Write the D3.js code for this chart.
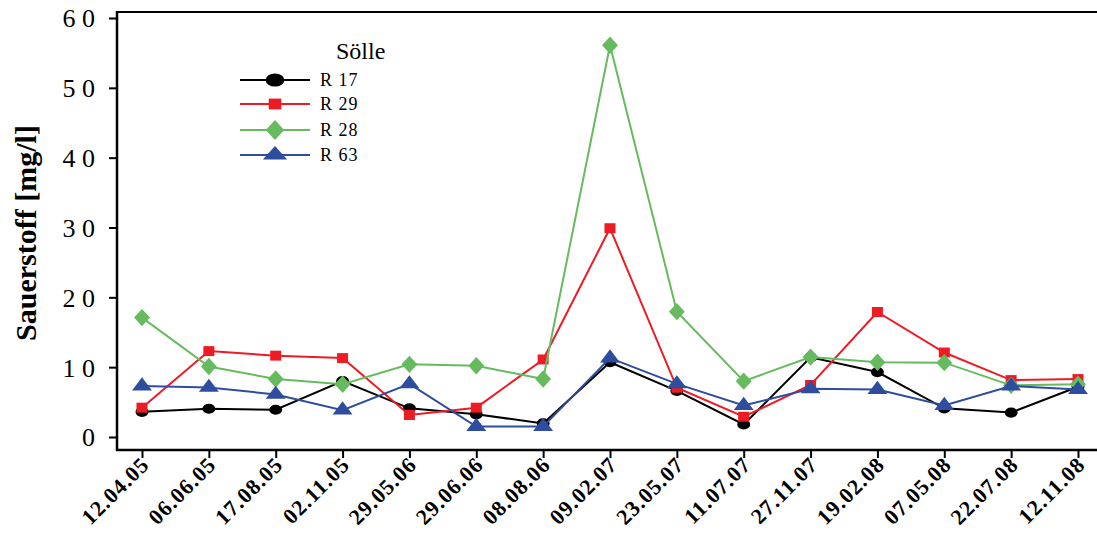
<!DOCTYPE html>
<html><head><meta charset="utf-8">
<script src="https://cdn.jsdelivr.net/npm/d3@7"></script>
<style>body{margin:0;background:#fff}svg{display:block}</style>
</head><body>
<script>
const dates = ["12.04.05","06.06.05","17.08.05","02.11.05","29.05.06","29.06.06","08.08.06","09.02.07","23.05.07","11.07.07","27.11.07","19.02.08","07.05.08","22.07.08","12.11.08"];
const r17 = [3.6,4.05,3.9,8.0,4.1,3.25,1.95,10.7,6.6,1.8,11.4,9.3,4.1,3.5,7.2];
const r29 = [4.2,12.3,11.65,11.3,3.15,4.2,11.1,29.9,7.05,2.9,7.45,17.9,12.1,8.15,8.3];
const r28 = [17.1,10.1,8.3,7.55,10.4,10.2,8.3,56.1,17.95,8.0,11.45,10.7,10.65,7.4,7.55];
const r63 = [7.3,7.1,6.1,3.85,7.6,1.5,1.5,11.3,7.6,4.5,6.9,6.8,4.5,7.3,6.8];
const yTicks = [0,10,20,30,40,50,60];
const seriesNames = ["R 17","R 29","R 28","R 63"];
const seriesColors = ["#000000","#ed1c24","#66bb5e","#2e4d9e"];
const seriesSymbols = [d3.symbolCircle, d3.symbolSquare, d3.symbolDiamond, d3.symbolTriangle];
const seriesData = [r17, r29, r28, r63];

const W = 1097, H = 533;
const svg = d3.select("body").append("svg").attr("width", W).attr("height", H);
const font = "'Liberation Serif','Times New Roman',serif";

const x = d3.scalePoint().domain(dates).range([142, 1078]);
const y = d3.scaleLinear().domain([0, 60]).range([437, 18]);

// marker shapes (size, x-scale, y-scale)
const mk = [[100,1.15,0.9],[110,1.05,0.95],[120,1.35,0.85],[110,1.25,0.95]];
const mkLeg = [[150,1.35,0.95],[130,1.1,0.95],[140,1.45,0.9],[130,1.4,0.9]];

// frame
svg.append("line").attr("x1",117).attr("x2",W).attr("y1",12).attr("y2",12).attr("stroke","#000").attr("stroke-width",2);

// y axis
const yAx = svg.append("g").attr("transform","translate(117,0)")
  .call(d3.axisLeft(y).tickValues(yTicks).tickSize(8).tickPadding(14).tickFormat(d => String(d).split("").join(" ")));
yAx.select(".domain").remove();
yAx.selectAll(".tick line").attr("stroke-width",2);
yAx.selectAll("text").attr("font-family",font).attr("font-size",26).attr("fill","#000").attr("dy","0.34em");
svg.append("line").attr("x1",117).attr("x2",117).attr("y1",11).attr("y2",451).attr("stroke","#000").attr("stroke-width",2.5);

// x axis
const xAx = svg.append("g").attr("transform","translate(0,450)")
  .call(d3.axisBottom(x).tickSize(8).tickPadding(4));
xAx.select(".domain").remove();
xAx.selectAll(".tick line").attr("stroke-width",2);
xAx.selectAll("text").attr("font-family",font).attr("font-size",22).attr("font-weight","bold").attr("fill","#000")
  .attr("letter-spacing","1px")
  .attr("text-anchor","end").attr("dy",null).attr("dx",null)
  .attr("transform","translate(8,16) rotate(-45)").attr("y",0).attr("x",0);
svg.append("line").attr("x1",116).attr("x2",W).attr("y1",450).attr("y2",450).attr("stroke","#000").attr("stroke-width",2.5);

// axis title
svg.append("text").attr("transform","translate(36,233) rotate(-90)").attr("text-anchor","middle")
  .attr("font-family",font).attr("font-size",30).attr("font-weight","bold").text("Sauerstoff [mg/l]");

// series
const line = d3.line().x((d,i)=>x(dates[i])).y(d=>y(d));
seriesData.forEach((vals, k) => {
  const g = svg.append("g");
  g.append("path").datum(vals).attr("d", line).attr("fill","none").attr("stroke",seriesColors[k]).attr("stroke-width",2);
  const [s, sx, sy] = mk[k];
  g.selectAll("path.m").data(vals).join("path").attr("class","m")
    .attr("transform",(d,i)=>`translate(${x(dates[i])},${y(d)}) scale(${sx},${sy})`)
    .attr("d", d3.symbol().type(seriesSymbols[k]).size(s)).attr("fill",seriesColors[k]);
});

// legend
svg.append("text").attr("x",336).attr("y",59).attr("font-family",font).attr("font-size",24).text("Sölle");
const legY = [80,104,130,155];
seriesNames.forEach((n,k) => {
  const g = svg.append("g").attr("transform",`translate(0,${legY[k]})`);
  g.append("line").attr("x1",240).attr("x2",310).attr("stroke",seriesColors[k]).attr("stroke-width",2);
  const [s, sx, sy] = mkLeg[k];
  g.append("path").attr("transform",`translate(275,0) scale(${sx},${sy})`)
    .attr("d", d3.symbol().type(seriesSymbols[k]).size(s)).attr("fill",seriesColors[k]);
  g.append("text").attr("x",320).attr("y",6).attr("font-family",font).attr("font-size",18).attr("letter-spacing","1px").text(n);
});
</script>
</body></html>
